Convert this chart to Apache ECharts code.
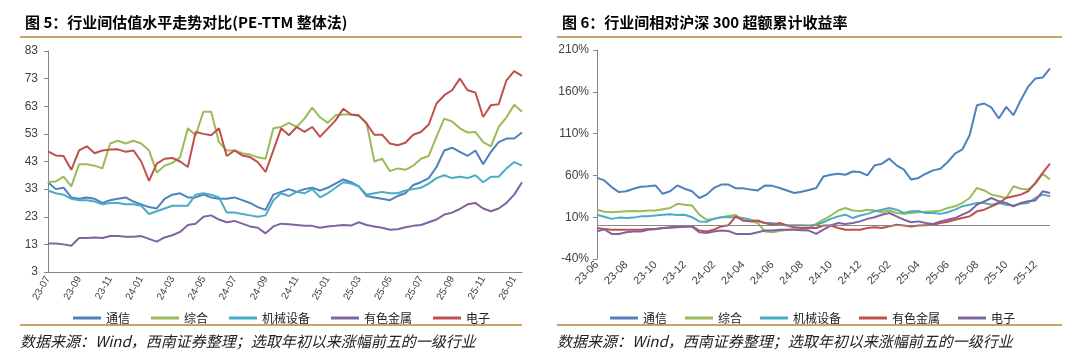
<!DOCTYPE html>
<html><head><meta charset="utf-8">
<script src="https://cdn.jsdelivr.net/npm/echarts@6/dist/echarts.min.js"></script>
<style>html,body{margin:0;padding:0;background:#fff}#c{width:1080px;height:364px}</style>
</head><body><div id="c"></div>
<script>
// ---------- Left chart: PE-TTM (semi-monthly points, 1st & 16th) ----------
const monthsL = ['2023-07','2023-08','2023-09','2023-10','2023-11','2023-12',
 '2024-01','2024-02','2024-03','2024-04','2024-05','2024-06','2024-07','2024-08','2024-09','2024-10','2024-11','2024-12',
 '2025-01','2025-02','2025-03','2025-04','2025-05','2025-06','2025-07','2025-08','2025-09','2025-10','2025-11','2025-12',
 '2026-01'];
const namesL = ['通信','综合','机械设备','有色金属','电子'];
const peTongxin = [35.5,33,33.5,30,29.5,30,29.5,28,29,29.5,30,28.5,27.5,26.5,26,29.5,31,31.5,30,30,31,30,29.5,29.5,30,29,28,26.5,25.5,
 31,32,33,32,33,33.5,32.5,33.5,35,36.5,35.5,34,30.5,30,29.5,29,30.5,31.5,34.5,35.5,37,41,47,48,46.5,45,47,42,46.5,50,51.3,51.3,53.5];
const peZonghe = [35.6,35.8,37.5,34,42,42,41.5,40.5,49.5,50.5,49.5,50.5,49.5,47,39,41.5,42.5,44.5,55,52.5,61,61,50,47,47,46,45.5,44.5,44,
 55,55.5,57,55.5,58.5,62.5,59,57,59.7,60,60,59.5,57,43,44,39.5,40.5,40,41.5,44,45,52,58.5,57.5,55,53.5,53.7,50,48.5,55.5,59,63.5,61];
const peJixie = [32.5,31.5,31,29.5,29,29,28.5,27.5,28,28,27.5,27.5,27,24,25,26,27,27,27,31,31.5,31,30,24.5,24.5,24,23.5,23,23.5,
 29,31.5,30.5,32,31.5,33,30,31.5,33.5,35.5,35,34,31,31.5,32,31.5,31.5,32.5,33,33.5,35,37,38,37,37.5,37,38,35.5,37.5,37.5,40.5,42.8,41.5];
const peYouse = [13.3,13.3,13,12.5,15.3,15.3,15.5,15.3,16,16,15.8,15.8,16,15,14,15.5,16.3,17.5,20,20.5,23,23.5,22,21,21.5,20.5,19.5,19,17,
 19.5,20.5,20.3,20,19.7,19.7,19,19.5,19.7,20,19.8,21,20,19.5,19,18.3,18.5,19.2,19.7,20,21,22,23.8,24.5,25.8,27.5,28,26,25,26,28,31,35.5];
const peDianzi = [46.7,45.2,45,40,47,48.5,46,47,47.3,47.4,46.5,47,43,36,42.2,44,44.3,43,41,53.7,53,52.5,55,45,47,45.2,44.6,42.8,39.2,
 47,55,52.5,55.5,53.7,55.5,51.9,54.9,57.9,62.1,60,59.7,56.7,52.7,52.7,49.5,48.9,49.8,52.7,53.7,56.4,64,67,68.8,73,68.8,68,59.1,63.4,63.7,72.4,75.7,74];
const yTicksL = [3,13,23,33,43,53,63,73,83];

// ---------- Right chart: excess return vs CSI 300 ----------
const monthsR = ['2023-06','2023-07','2023-08','2023-09','2023-10','2023-11','2023-12',
 '2024-01','2024-02','2024-03','2024-04','2024-05','2024-06','2024-07','2024-08','2024-09','2024-10','2024-11','2024-12',
 '2025-01','2025-02','2025-03','2025-04','2025-05','2025-06','2025-07','2025-08','2025-09','2025-10','2025-11','2025-12'];
const lastDateR = '2026-01-01';
const namesR = ['通信','综合','机械设备','有色金属','电子'];
const exTongxin = [57,54,46,40,41,44,46.5,47,48,38,41,48,44,41,33,37,45,49,49,44.5,44.5,43,42,48,47.5,45,42,39,40.5,42.5,
 45,58.8,60.8,62,60.8,64.7,64,60,72,74,80,72,67,55,57,62,66,68,76,86,91,108,144,146,141,128,142,132,150,166,176,177,188];
const exZonghe = [19,16.5,16,16.5,17,17.5,17,18,18,19.5,21,26,25,24,13,7,8,10,11.5,12.5,6,5,3,-7,-8,-6.5,-5,-4.5,-5,-3,
 2,7,12,18,21,18,17,19,18,16,18,15,14,15,16,16.5,17,17.8,21,23,27,33,45,42,37,35,33,47,44,43,50,62,55];
const exJixie = [13,10.5,8,9.5,9,9.5,11,11,12,13,13.5,12.5,13,10,5,4.5,8,10,10,10,9,7,5,3,3,1,0.5,0.5,0.5,0,
 1,4,8,11,13,9,12,14,17,19,21,19,15,17,17.5,15,15,14,16,19,23,25,27,27,25,27,25,24,26,27,33,37,35];
const exYouse = [-3,-4,-5,-5,-5,-5,-5,-4,-4,-3,-2.5,-2,-1.5,-0.5,-6,-7,-5,-1,0.5,11,6,5,6,3,1,3,0,-2,-3,-3,
 -3,0,0,-3,-5,-5,-5,-3,-2,-3,-1,1,0,-1,0,0.5,1,3,4.5,7,9,11,17,19,23,27,33,35,37,41,51,63,74];
const exDianzi = [-7,-4.5,-10,-10,-8,-7,-7,-5,-4.5,-3,-2,-1,-1,-1.5,-8,-9,-7,-6,-6.5,-10,-10,-10,-8,-6,-6,-5,-5,-5,-5.5,-6,
 -10,-5,0,3,2,3,5,8,10,13,15,11,7,4,5,3,2,5,7,9,13,17,25,29,33,29,27,23,27,29,30,41,39];
const yTicksR = [-40,10,60,110,160,210];

// ---------- build ----------
const catsL = monthsL.flatMap(m => [m + '-01', m + '-16']);
const catsR = monthsR.flatMap(m => [m + '-01', m + '-16']).concat([lastDateR]);
const colorsL = ['#4F81BD','#9BBB59','#4BACC6','#8064A2','#C0504D'];
const colorsR = ['#4F81BD','#9BBB59','#4BACC6','#C0504D','#8064A2'];
const dataL = [peTongxin, peZonghe, peJixie, peYouse, peDianzi];
const dataR = [exTongxin, exZonghe, exJixie, exYouse, exDianzi];
const FONT = '"Liberation Sans", "Noto Sans CJK SC", sans-serif';
const CJK = '"Noto Sans CJK SC", "Liberation Sans", sans-serif';
const axisGray = '#868686';
const lblFmt = v => v.slice(2, 7);

const series = [];
namesL.forEach((n, i) => series.push({
  name: 'L' + n, type: 'line', xAxisIndex: 0, yAxisIndex: 0, data: dataL[i],
  symbol: 'none', color: colorsL[i], lineStyle: { width: 2 }, emphasis: { disabled: true }
}));
namesR.forEach((n, i) => {
  const s = {
    name: 'R' + n, type: 'line', xAxisIndex: 1, yAxisIndex: 1, data: dataR[i],
    symbol: 'none', color: colorsR[i], lineStyle: { width: 2 }, emphasis: { disabled: true }
  };
  if (i === 0) s.markLine = { silent: true, symbol: 'none', label: { show: false },
    lineStyle: { color: axisGray, width: 1, type: 'solid' }, data: [{ yAxis: 0 }] };
  series.push(s);
});

const legendBase = {
  top: 307, itemWidth: 28, itemHeight: 3, itemGap: 21, icon: 'rect',
  formatter: n => n.slice(1),
  textStyle: { fontFamily: CJK, fontSize: 12, color: '#222' },
  selectedMode: false
};

const option = {
  animation: false,
  backgroundColor: '#fff',
  title: [
    { text: '图 5：行业间估值水平走势对比(PE-TTM 整体法)', left: 20, top: 10,
      textStyle: { fontFamily: CJK, fontSize: 15, fontWeight: 'bold', color: '#000' } },
    { text: '图 6：行业间相对沪深 300 超额累计收益率', left: 557, top: 10,
      textStyle: { fontFamily: CJK, fontSize: 15, fontWeight: 'bold', color: '#000' } }
  ],
  legend: [
    Object.assign({}, legendBase, { left: 68, data: namesL.map(n => 'L' + n) }),
    Object.assign({}, legendBase, { left: 605, itemGap: 18, data: namesR.map(n => 'R' + n) })
  ],
  grid: [
    { left: 48, top: 51, width: 474, height: 221, containLabel: false },
    { left: 597, top: 50, width: 453, height: 209, containLabel: false }
  ],
  xAxis: [
    { type: 'category', gridIndex: 0, data: catsL, boundaryGap: false,
      axisLine: { lineStyle: { color: axisGray } }, axisTick: { show: false },
      axisLabel: { interval: 3, rotate: 60, margin: 5, formatter: lblFmt,
        fontFamily: FONT, fontSize: 10, color: '#404040' } },
    { type: 'category', gridIndex: 1, data: catsR, boundaryGap: false,
      axisLine: { show: false }, axisTick: { show: false },
      axisLabel: { interval: 3, rotate: 45, margin: 4, formatter: lblFmt,
        fontFamily: FONT, fontSize: 11, color: '#404040' } }
  ],
  yAxis: [
    { type: 'value', gridIndex: 0, min: 3, max: 83, splitLine: { show: false },
      axisLine: { show: true, lineStyle: { color: axisGray } },
      axisTick: { show: true, length: 4, customValues: yTicksL, lineStyle: { color: axisGray } },
      axisLabel: { customValues: yTicksL, margin: 10, fontFamily: FONT, fontSize: 12, color: '#404040' } },
    { type: 'value', gridIndex: 1, min: -40, max: 210, splitLine: { show: false },
      axisLine: { show: true, onZero: false, lineStyle: { color: axisGray } },
      axisTick: { show: true, length: 4, customValues: yTicksR, lineStyle: { color: axisGray } },
      axisLabel: { customValues: yTicksR, margin: 8, formatter: v => v + '%',
        fontFamily: FONT, fontSize: 12, color: '#404040' } }
  ],
  graphic: [
    { type: 'line', shape: { x1: 20, y1: 37, x2: 522, y2: 37 }, style: { stroke: '#C9A365', lineWidth: 2 } },
    { type: 'line', shape: { x1: 557, y1: 37, x2: 1062, y2: 37 }, style: { stroke: '#C9A365', lineWidth: 2 } },
    { type: 'line', shape: { x1: 20, y1: 325, x2: 522, y2: 325 }, style: { stroke: '#C9A365', lineWidth: 2 } },
    { type: 'line', shape: { x1: 557, y1: 325, x2: 1062, y2: 325 }, style: { stroke: '#C9A365', lineWidth: 2 } },
    { type: 'text', left: 20, top: 334, style: { text: '数据来源：Wind，西南证券整理；选取年初以来涨幅前五的一级行业',
      font: 'italic 15px "Noto Sans CJK SC", "Liberation Sans", sans-serif', fill: '#222' } },
    { type: 'text', left: 557, top: 334, style: { text: '数据来源：Wind，西南证券整理；选取年初以来涨幅前五的一级行业',
      font: 'italic 15px "Noto Sans CJK SC", "Liberation Sans", sans-serif', fill: '#222' } }
  ],
  series: series
};
const chart = echarts.init(document.getElementById('c'), null, { renderer: 'canvas' });
chart.setOption(option);
</script></body></html>
